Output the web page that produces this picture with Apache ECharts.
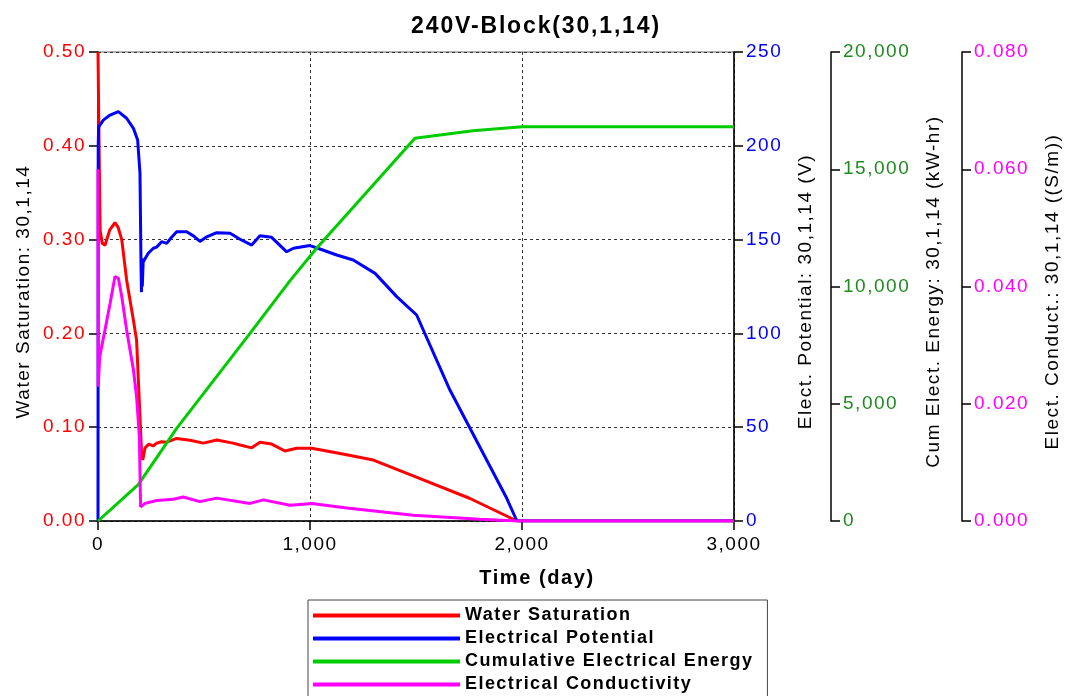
<!DOCTYPE html>
<html>
<head>
<meta charset="utf-8">
<title>240V-Block(30,1,14)</title>
<script src="https://cdn.jsdelivr.net/npm/echarts@6/dist/echarts.min.js"></script>
<style>
  html, body { margin: 0; padding: 0; background: #fff; }
  #chart { width: 1072px; height: 696px; }
</style>
</head>
<body>
<div id="chart"></div>
<script>
// Block (30,1,14) history under 240 V heating
const timeTicks = [0, 1000, 2000, 3000];

// Water saturation (fraction)
const wsDays   = [0, 4, 10, 20, 33, 55, 80, 95, 112, 135, 167, 182, 198, 205, 211, 222, 240, 260, 277, 300, 325, 371, 434, 497, 560, 637, 670, 725, 764, 819, 882, 937, 1008, 1142, 1299, 1487, 1755, 1976, 3000];
const wsValues = [0.50, 0.42, 0.31, 0.296, 0.294, 0.31, 0.318, 0.313, 0.30, 0.257, 0.214, 0.193, 0.111, 0.075, 0.065, 0.078, 0.082, 0.080, 0.083, 0.0845, 0.084, 0.088, 0.086, 0.083, 0.0864, 0.083, 0.081, 0.078, 0.0839, 0.082, 0.0746, 0.0775, 0.0775, 0.072, 0.065, 0.048, 0.024, 0, 0];

// Electrical potential (V)
const epDays   = [0, 1, 3, 25, 57, 96, 135, 167, 187, 198, 203, 205, 207, 209, 213, 237, 261, 277, 300, 324, 345, 371, 418, 450, 481, 513, 560, 623, 670, 725, 764, 819, 890, 922, 1000, 1047, 1126, 1204, 1307, 1409, 1503, 1660, 1928, 1976, 3000];
const epValues = [0, 200, 210, 213.7, 216.4, 218.2, 214.7, 209.3, 203.1, 185.5, 135, 122, 140, 125, 138, 142.7, 145.4, 146, 148.9, 148, 151, 154.2, 154.2, 152, 149, 151.5, 153.7, 153.4, 150.2, 147.1, 152.1, 151.2, 143.5, 145.4, 146.8, 145, 141.8, 139.1, 132, 119.6, 109.8, 69.8, 12.1, 0, 0];

// Cumulative electrical energy (kW-hr)
const ceDays   = [0, 190, 371, 717, 906, 1031, 1495, 1768, 2000, 3000];
const ceValues = [0, 1550, 3950, 8000, 10250, 11630, 16320, 16640, 16815, 16815];

// Electrical conductivity (S/m)
const ecDays   = [0, 1, 8, 33, 57, 80, 96, 112, 135, 167, 182, 195, 201, 222, 277, 355, 402, 481, 560, 717, 780, 906, 1008, 1173, 1487, 1802, 1976, 3000];
const ecValues = [0.060, 0.0229, 0.028, 0.0326, 0.0371, 0.0417, 0.0414, 0.0383, 0.0326, 0.0258, 0.0212, 0.0144, 0.0024, 0.003, 0.0035, 0.0037, 0.0041, 0.0033, 0.0039, 0.003, 0.0036, 0.0027, 0.003, 0.0022, 0.001, 0.0003, 0, 0];

// Slightly open letter spacing for all canvas text, proportional to font size
(function () {
  const proto = CanvasRenderingContext2D.prototype;
  const d = Object.getOwnPropertyDescriptor(proto, 'font');
  if (!d || !('letterSpacing' in proto)) return;
  Object.defineProperty(proto, 'font', {
    configurable: true,
    get: function () { return d.get.call(this); },
    set: function (v) {
      d.set.call(this, v);
      const m = /(\d+(?:\.\d+)?)px/.exec(v);
      this.letterSpacing = m ? (parseFloat(m[1]) * 0.08).toFixed(2) + 'px' : '0px';
    }
  });
})();

const FONT = 'Arial, "Liberation Sans", sans-serif';
const zip = (xs, ys) => xs.map((x, i) => [x, ys[i]]);
const commas = v => String(v).replace(/\B(?=(\d{3})+(?!\d))/g, ',');

const RED = '#ff0000', BLUE = '#0000ff', GREEN = '#00cc00', MAGENTA = '#ff00ff';
const GREEN_TEXT = '#1f8a1f';

function valueAxis(opts) {
  return Object.assign({
    type: 'value',
    nameLocation: 'middle',
    nameRotate: 90,
    nameMoveOverlap: false,
    nameTextStyle: { fontFamily: FONT, fontSize: 19, color: '#000', padding: [0, 10, 0, 0] },
    axisLine: { show: true, onZero: false, lineStyle: { color: '#000', width: 1.5 } },
    axisTick: { show: true, length: 9, lineStyle: { color: '#000', width: 1.5 } },
    splitLine: { show: false },
    axisLabel: { fontFamily: FONT, fontSize: 19, margin: 12 }
  }, opts);
}

const chart = echarts.init(document.getElementById('chart'));
chart.setOption({
  animation: false,
  backgroundColor: '#fff',
  title: {
    text: '240V-Block(30,1,14)',
    left: 'center',
    top: 9,
    textStyle: { fontFamily: FONT, fontSize: 23, fontWeight: 'bold', color: '#000' }
  },
  grid: {
    left: 98, right: 338, top: 52, bottom: 175,
    show: true, borderColor: '#666', borderWidth: 1
  },
  legend: {
    orient: 'vertical',
    left: 308, top: 600,
    height: 140,
    padding: [4, 14, 20, 5],
    itemGap: 0,
    itemWidth: 147,
    itemHeight: 4,
    icon: 'rect',
    borderColor: '#444',
    borderWidth: 1,
    textStyle: { fontFamily: FONT, fontSize: 18, fontWeight: 'bold', color: '#000', lineHeight: 23 },
    data: ['Water Saturation', 'Electrical Potential', 'Cumulative Electrical Energy', 'Electrical Conductivity']
  },
  xAxis: {
    type: 'value',
    min: timeTicks[0], max: timeTicks[timeTicks.length - 1], interval: 1000,
    name: 'Time (day)',
    nameLocation: 'middle',
    nameGap: 47,
    nameMoveOverlap: false,
    nameTextStyle: { fontFamily: FONT, fontSize: 20, fontWeight: 'bold', color: '#000', padding: [0, 0, 0, 242] },
    axisLine: { onZero: false, lineStyle: { color: '#000', width: 1.5 } },
    axisTick: { length: 9, lineStyle: { color: '#000', width: 1.5 } },
    axisLabel: { fontFamily: FONT, fontSize: 19, color: '#000', margin: 14, formatter: commas },
    splitLine: { show: true, lineStyle: { color: '#333', type: [3, 3], width: 1 } }
  },
  yAxis: [
    valueAxis({
      position: 'left', min: 0, max: 0.5, interval: 0.1,
      name: 'Water Saturation: 30,1,14', nameGap: 64,
      axisLabel: { fontFamily: FONT, fontSize: 19, margin: 12, color: RED, formatter: v => v.toFixed(2) },
      splitLine: { show: true, lineStyle: { color: '#333', type: [3, 3], width: 1 } }
    }),
    valueAxis({
      position: 'right', offset: 0, min: 0, max: 250, interval: 50,
      name: 'Elect. Potential: 30,1,14 (V)', nameGap: 62,
      axisLabel: { fontFamily: FONT, fontSize: 19, margin: 12, color: BLUE }
    }),
    valueAxis({
      position: 'right', offset: 97, min: 0, max: 20000, interval: 5000,
      name: 'Cum Elect. Energy: 30,1,14 (kW-hr)', nameGap: 93,
      axisLabel: { fontFamily: FONT, fontSize: 19, margin: 12, color: GREEN_TEXT, formatter: commas }
    }),
    valueAxis({
      position: 'right', offset: 228, min: 0, max: 0.08, interval: 0.02,
      name: 'Elect. Conduct.: 30,1,14 ((S/m))', nameGap: 81,
      axisLabel: { fontFamily: FONT, fontSize: 19, margin: 12, color: MAGENTA, formatter: v => v.toFixed(3) }
    })
  ],
  series: [
    { name: 'Water Saturation', type: 'line', yAxisIndex: 0, data: zip(wsDays, wsValues),
      showSymbol: false, color: RED, lineStyle: { width: 3, color: RED } },
    { name: 'Electrical Potential', type: 'line', yAxisIndex: 1, data: zip(epDays, epValues),
      showSymbol: false, color: BLUE, lineStyle: { width: 3, color: BLUE } },
    { name: 'Cumulative Electrical Energy', type: 'line', yAxisIndex: 2, data: zip(ceDays, ceValues),
      showSymbol: false, color: GREEN, lineStyle: { width: 3, color: GREEN } },
    { name: 'Electrical Conductivity', type: 'line', yAxisIndex: 3, data: zip(ecDays, ecValues),
      showSymbol: false, color: MAGENTA, lineStyle: { width: 3, color: MAGENTA } }
  ]
});
</script>
</body>
</html>
